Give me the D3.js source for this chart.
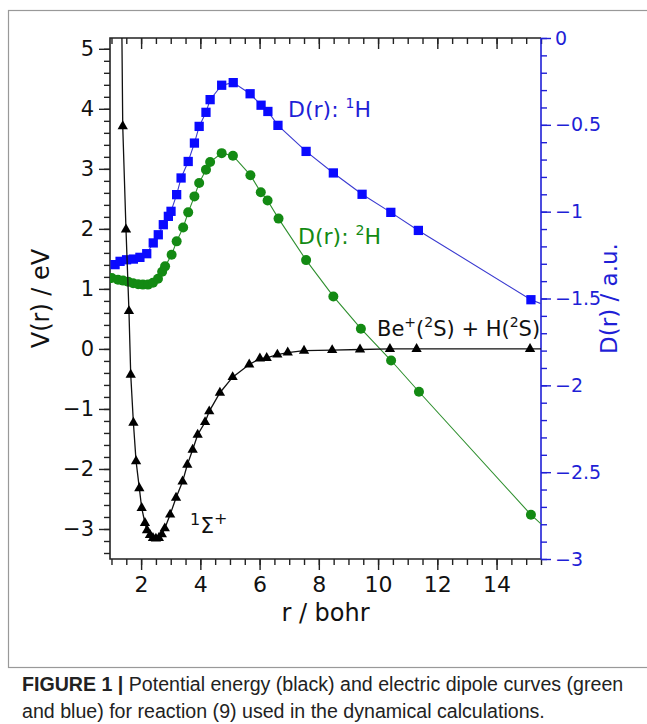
<!DOCTYPE html>
<html>
<head>
<meta charset="utf-8">
<script src="https://cdn.jsdelivr.net/npm/d3@7"></script>
<style>
  html, body { margin: 0; padding: 0; background: #fff; }
  svg { display: block; }
</style>
</head>
<body>
<div id="chart-area"></div>
<script>
// potential energy curve, V(r) in eV (left axis)
const potR = [1.38, 1.49, 1.59, 1.65, 1.74, 1.83, 1.94, 2.02, 2.13, 2.2, 2.3, 2.4, 2.5, 2.6, 2.7, 2.8,
  2.98, 3.18, 3.4, 3.56, 3.74, 3.91, 4.16, 4.3, 4.66, 5.09, 5.65, 6.01, 6.24, 6.6, 6.95,
  7.5, 8.45, 9.39, 10.4, 11.3, 15.13];
const potV = [3.71, 1.99, 0.63, -0.43, -1.23, -1.87, -2.32, -2.65, -2.9, -3.02, -3.1, -3.15, -3.16, -3.15, -3.09, -2.99,
  -2.76, -2.48, -2.21, -1.93, -1.68, -1.43, -1.22, -1.04, -0.73, -0.47, -0.26, -0.16, -0.15, -0.095, -0.06,
  -0.03, -0.02, -0.01, 0, 0, 0];
// where the drawn line leaves the frame (no markers)
const potLineStart = { r: 1.3, v: 8 };
const potLineEnd = { r: 15.5, v: 0 };

// dipole D(r) for 1H, a.u. (right axis)
const d1R = [1.12, 1.29, 1.51, 1.74, 1.96, 2.19, 2.41, 2.58, 2.75, 2.92, 3.01, 3.2, 3.35, 3.59, 3.8, 3.96,
  4.19, 4.33, 4.72, 5.11, 5.68, 6.05, 6.28, 6.62, 7.57, 8.49, 9.46, 10.43, 11.36, 15.16];
const d1D = [-1.305, -1.286, -1.277, -1.273, -1.263, -1.242, -1.18, -1.133, -1.075, -1.027, -0.998, -0.902, -0.806, -0.711, -0.605, -0.509,
  -0.428, -0.355, -0.272, -0.257, -0.321, -0.387, -0.423, -0.503, -0.653, -0.777, -0.9, -1.004, -1.108, -1.507];
const d1LineEnd = { r: 15.5, d: -1.53 };

// dipole D(r) for 2H, a.u. (right axis)
const d2R = [1.01, 1.22, 1.39, 1.56, 1.73, 1.9, 2.06, 2.23, 2.4, 2.57, 2.71, 2.81, 3.03, 3.2, 3.42, 3.59, 3.8, 3.96,
  4.19, 4.33, 4.72, 5.1, 5.69, 6.04, 6.27, 6.64, 7.57, 8.49, 9.42, 10.44, 11.38, 15.16];
const d2D = [-1.382, -1.392, -1.397, -1.403, -1.412, -1.418, -1.42, -1.42, -1.409, -1.386, -1.346, -1.315, -1.248, -1.171, -1.091, -1.004, -0.912, -0.835,
  -0.758, -0.714, -0.663, -0.678, -0.79, -0.888, -0.936, -1.04, -1.279, -1.488, -1.674, -1.857, -2.037, -2.745];
const d2LineEnd = { r: 15.5, d: -2.798 };

const xTicks = [2, 4, 6, 8, 10, 12, 14];
const yLeftTicks = [-3, -2, -1, 0, 1, 2, 3, 4, 5];
const yRightTicks = [0, -0.5, -1, -1.5, -2, -2.5, -3];

const W = 647, H = 724;
const plot = { left: 110, right: 541, top: 38, bottom: 559 };
const FONT = '"DejaVu Sans", sans-serif';
const BLUE = '#1f1fd6';
const GREEN = '#138a13';

main();

function main() {
  const svg = d3.select('#chart-area').append('svg')
    .attr('width', W)
    .attr('height', H);

  // outer frame of the figure
  svg.append('rect')
    .attr('x', 8.5).attr('y', 10.5)
    .attr('width', W + 10).attr('height', 657)
    .attr('fill', 'none')
    .attr('stroke', '#999')
    .attr('stroke-width', 1.2);

  const x = d3.scaleLinear().domain([0.95, 15.5]).range([plot.left, plot.right]);
  const yL = d3.scaleLinear().domain([-3.5, 5.18]).range([plot.bottom, plot.top]);
  const yR = d3.scaleLinear().domain([-3, 0]).range([plot.bottom, plot.top]);

  drawAxes(svg, x, yL, yR);
  drawSeries(svg, x, yL, yR);
  drawLabels(svg);
  drawCaption(svg);
}

function minor(lo, hi, step) {
  const n = Math.round((hi - lo) / step);
  return d3.range(n + 1).map(i => +(lo + i * step).toFixed(3));
}

function drawAxes(svg, x, yL, yR) {
  const xMinor = minor(1, 15.5, 0.5);
  const yMinor = minor(-3.4, 5.0, 0.2);
  const rMinor = minor(-3, 0, 0.1);

  // bottom: ticks outward
  const bottom = svg.append('g').attr('transform', `translate(0,${plot.bottom})`);
  bottom.call(d3.axisBottom(x).tickValues(xMinor).tickSize(6).tickFormat(''));
  bottom.append('g').call(d3.axisBottom(x).tickValues(xTicks).tickSize(11).tickSizeOuter(0).tickPadding(6))
    .call(g => g.selectAll('text').attr('font-size', 22).attr('font-family', FONT).attr('fill', '#111'));
  // top: ticks inward, no labels
  const top = svg.append('g').attr('transform', `translate(0,${plot.top})`);
  top.call(d3.axisBottom(x).tickValues(xMinor).tickSize(6).tickFormat(''));
  top.append('g').call(d3.axisBottom(x).tickValues(xTicks).tickSize(11).tickFormat(''));

  // left axis
  const left = svg.append('g').attr('transform', `translate(${plot.left},0)`);
  left.call(d3.axisLeft(yL).tickValues(yMinor).tickSize(6).tickFormat(''));
  left.append('g').call(d3.axisLeft(yL).tickValues(yLeftTicks).tickSize(11).tickPadding(5)
      .tickFormat(d => d3.format('d')(d).replace('-', '\u2212')))
    .call(g => g.selectAll('text').attr('font-size', 21).attr('font-family', FONT).attr('fill', '#111'));

  svg.selectAll('.domain').remove();
  svg.selectAll('.tick line').attr('stroke', '#222').attr('stroke-width', 1.4);

  // right axis (blue)
  const right = svg.append('g').attr('transform', `translate(${plot.right},0)`);
  right.call(d3.axisRight(yR).tickValues(rMinor).tickSize(6).tickFormat(''));
  right.append('g').call(d3.axisRight(yR).tickValues(yRightTicks).tickSize(10).tickPadding(4)
      .tickFormat(d => (d === 0 ? '0' : String(d).replace('-', '\u2212'))))
    .call(g => g.selectAll('text').attr('font-size', 19).attr('font-family', FONT).attr('fill', BLUE));
  right.selectAll('.domain').remove();
  right.selectAll('.tick line').attr('stroke', BLUE).attr('stroke-width', 1.4);

  // frame
  const frame = svg.append('g').attr('stroke-width', 1.6).attr('fill', 'none');
  frame.append('path').attr('stroke', '#222')
    .attr('d', `M${plot.right},${plot.top}H${plot.left}V${plot.bottom}H${plot.right}`);
  frame.append('path').attr('stroke', BLUE)
    .attr('d', `M${plot.right},${plot.top}V${plot.bottom}`);
}

function drawSeries(svg, x, yL, yR) {
  svg.append('clipPath').attr('id', 'clip')
    .append('rect')
    .attr('x', plot.left).attr('y', plot.top)
    .attr('width', plot.right - plot.left).attr('height', plot.bottom - plot.top);

  const g = svg.append('g').attr('clip-path', 'url(#clip)');

  const pot = potR.map((r, i) => ({ r, v: potV[i] }));
  const d1 = d1R.map((r, i) => ({ r, d: d1D[i] }));
  const d2 = d2R.map((r, i) => ({ r, d: d2D[i] }));

  const lineV = d3.line().x(p => x(p.r)).y(p => yL(p.v));
  const lineD = d3.line().x(p => x(p.r)).y(p => yR(p.d));

  // blue: 1H dipole
  g.append('path')
    .attr('d', lineD(d1.concat([d1LineEnd])))
    .attr('fill', 'none').attr('stroke', '#3a3ad0').attr('stroke-width', 1.1);
  g.selectAll('.sq').data(d1).enter().append('path')
    .attr('class', 'sq')
    .attr('transform', p => `translate(${x(p.r)},${yR(p.d)})`)
    .attr('d', d3.symbol(d3.symbolSquare, 86)())
    .attr('fill', '#0a0aff');

  // green: 2H dipole
  g.append('path')
    .attr('d', lineD(d2.concat([d2LineEnd])))
    .attr('fill', 'none').attr('stroke', '#2e8f2e').attr('stroke-width', 1.1);
  g.selectAll('.dot').data(d2).enter().append('circle')
    .attr('class', 'dot')
    .attr('cx', p => x(p.r))
    .attr('cy', p => yR(p.d))
    .attr('r', 5)
    .attr('fill', GREEN);

  // black: potential energy
  g.append('path')
    .attr('d', lineV([potLineStart].concat(pot, [potLineEnd])))
    .attr('fill', 'none').attr('stroke', '#111').attr('stroke-width', 1.3);
  g.selectAll('.tri').data(pot).enter().append('path')
    .attr('class', 'tri')
    .attr('transform', p => `translate(${x(p.r)},${yL(p.v)})`)
    .attr('d', d3.symbol(d3.symbolTriangle, 46)())
    .attr('fill', '#000');
}

function drawLabels(svg) {
  const t = (px, py, color, size) => svg.append('text')
    .attr('x', px).attr('y', py)
    .attr('font-family', FONT).attr('font-size', size).attr('fill', color);

  const sup = (txt, el, s) => el.append('tspan').attr('font-size', s).attr('dy', -9).text(txt);
  const back = (txt, el) => el.append('tspan').attr('dy', 9).text(txt);

  // D(r): 1H
  const l1 = t(288, 117, BLUE, 22).text('D(r): ');
  sup('1', l1, 14); back('H', l1);
  // D(r): 2H
  const l2 = t(298, 244, GREEN, 22).text('D(r): ');
  sup('2', l2, 14); back('H', l2);
  // Be+(2S) + H(2S)
  const l3 = t(377, 336, '#111', 21).text('Be');
  sup('+', l3, 14); back('(', l3); sup('2', l3, 14); back('S) + H(', l3); sup('2', l3, 14); back('S)', l3);
  // 1Σ+
  const l4 = t(190, 533, '#111', 22);
  l4.append('tspan').attr('font-size', 16).attr('dy', -8).text('1');
  l4.append('tspan').attr('dy', 8).text('\u03A3');
  sup('+', l4, 16);

  // axis titles
  svg.append('text')
    .attr('transform', `translate(49,${(plot.top + plot.bottom) / 2}) rotate(-90)`)
    .attr('text-anchor', 'middle')
    .attr('font-family', FONT).attr('font-size', 24).attr('fill', '#111')
    .text('V(r) / eV');
  svg.append('text')
    .attr('x', (plot.left + plot.right) / 2).attr('y', 621)
    .attr('text-anchor', 'middle')
    .attr('font-family', FONT).attr('font-size', 24).attr('fill', '#111')
    .text('r / bohr');
  svg.append('text')
    .attr('transform', `translate(617,${(plot.top + plot.bottom) / 2}) rotate(-90)`)
    .attr('text-anchor', 'middle')
    .attr('font-family', FONT).attr('font-size', 23).attr('fill', BLUE)
    .text('D(r) / a.u.');
}

function drawCaption(svg) {
  const cap = svg.append('g')
    .attr('font-family', '"Liberation Sans", Arial, sans-serif')
    .attr('font-size', 19.6)
    .attr('fill', '#222');
  const line1 = cap.append('text').attr('x', 22).attr('y', 691);
  line1.append('tspan').attr('font-weight', 'bold').text('FIGURE 1 |');
  line1.append('tspan').text(' Potential energy (black) and electric dipole curves (green');
  cap.append('text').attr('x', 22).attr('y', 718)
    .text('and blue) for reaction (9) used in the dynamical calculations.');
}
</script>
</body>
</html>
